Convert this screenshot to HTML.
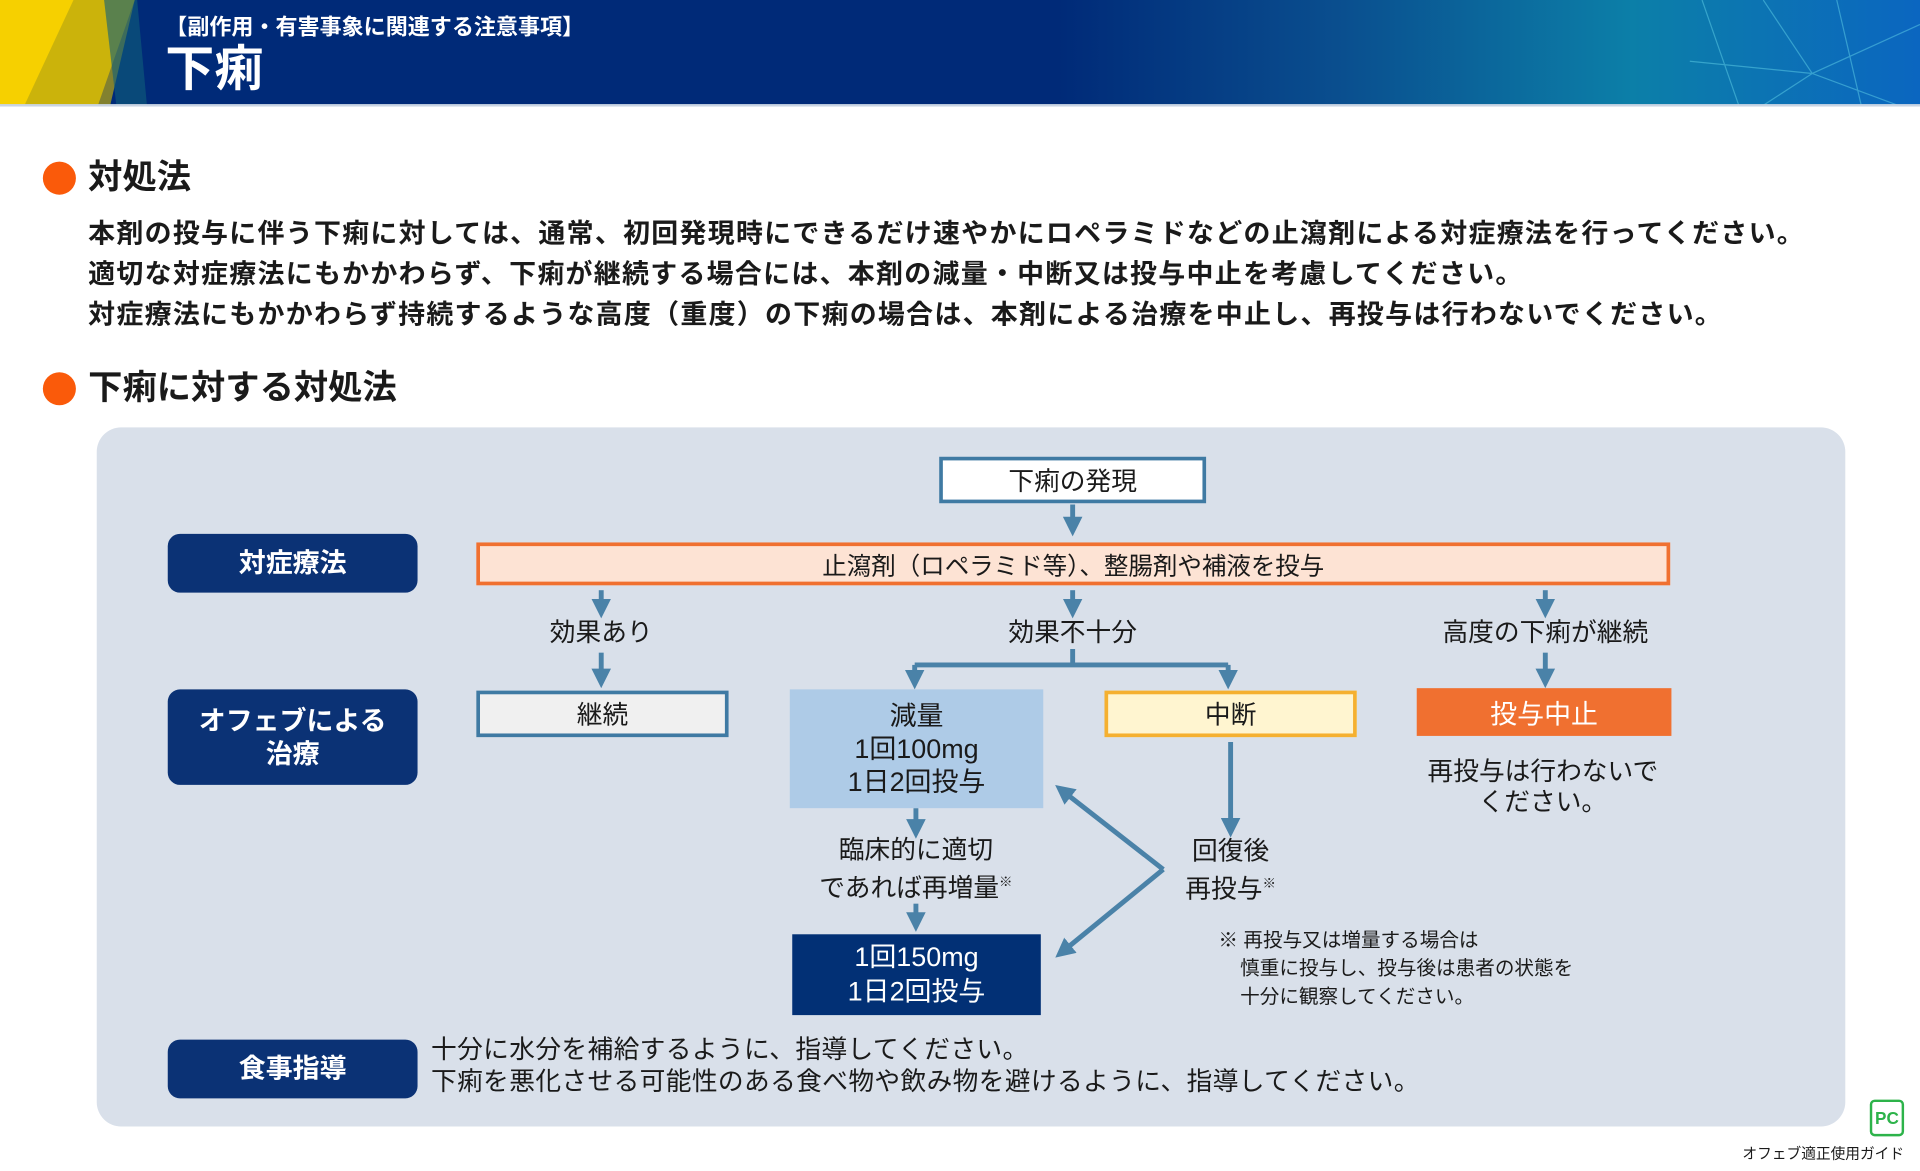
<!DOCTYPE html>
<html><head><meta charset="utf-8"><style>
html,body{margin:0;padding:0;width:1920px;height:1170px;overflow:hidden;background:#fff}
#s{position:absolute;left:0;top:0;width:1568px;height:956px;transform:scale(1.22449);transform-origin:0 0;font-family:"Liberation Sans","Noto Sans CJK JP",sans-serif;color:#1a1a1a}
.a{position:absolute;white-space:nowrap}
.c{position:absolute;display:flex;align-items:center;justify-content:center;text-align:center;box-sizing:border-box}
.lab{background:#0b3275;color:#fff;font-weight:bold;font-size:22px;border-radius:10px;line-height:1.25}
.t{position:absolute;transform:translate(-50%,-50%);text-align:center;white-space:nowrap;font-size:21px;line-height:27px}
sup{font-size:11px;vertical-align:8px}
</style></head><body><div id="s">
<div class="a" style="left:0;top:0;width:1568px;height:86px;background:linear-gradient(90deg,#002a78 0%,#002a78 55%,#0a4f8f 70%,#0c7fa8 85%,#0b66c0 100%)"></div>
<svg class="a" style="left:0;top:0" width="1568" height="88">
<polygon points="0,0 110,0 80,86 0,86" fill="#f6d000"/>
<polygon points="60,0 110,0 90,86 20,86" fill="#b9a60f" opacity="0.7"/>
<polygon points="85,0 112,0 120,86 95,86" fill="#0f5f7a" opacity="0.6"/>
<g stroke="#5fd0e8" stroke-width="1" opacity="0.5" fill="none"><path d="M1390 0 L1420 86 M1440 0 L1480 60 L1568 20 M1480 60 L1440 86 M1500 0 L1520 86 M1380 50 L1480 60 L1550 86"/></g>
<rect x="0" y="85" width="1568" height="2" fill="#c9d4e3"/>
</svg>
<div class="a" style="left:135px;top:8px;color:#fff;font-size:18px;font-weight:bold">【副作用・有害事象に関連する注意事項】</div>
<div class="a" style="left:135px;top:32px;color:#fff;font-size:40px;font-weight:bold;line-height:50px">下痢</div>

<div class="a" style="left:35px;top:132px;width:27px;height:27px;border-radius:50%;background:#fa5a0a"></div>
<div class="a" style="left:72px;top:127px;font-size:28px;font-weight:bold;line-height:36px">対処法</div>
<div class="a" style="left:72px;top:174px;font-size:22px;font-weight:bold;line-height:33px;letter-spacing:1.05px">本剤の投与に伴う下痢に対しては、通常、初回発現時にできるだけ速やかにロペラミドなどの止瀉剤による対症療法を行ってください。<br>適切な対症療法にもかかわらず、下痢が継続する場合には、本剤の減量・中断又は投与中止を考慮してください。<br>対症療法にもかかわらず持続するような高度（重度）の下痢の場合は、本剤による治療を中止し、再投与は行わないでください。</div>
<div class="a" style="left:35px;top:304px;width:27px;height:27px;border-radius:50%;background:#fa5a0a"></div>
<div class="a" style="left:72px;top:299px;font-size:28px;font-weight:bold;line-height:36px">下痢に対する対処法</div>

<div class="a" style="left:79px;top:349px;width:1428px;height:571px;background:#d9e0ea;border-radius:20px"></div>
<div class="c lab" style="left:137px;top:436px;width:204px;height:48px">対症療法</div>
<div class="c lab" style="left:137px;top:563px;width:204px;height:78px">オフェブによる<br>治療</div>
<div class="c lab" style="left:137px;top:849px;width:204px;height:48px">食事指導</div>

<svg class="a" style="left:0;top:0" width="1568" height="956">
<defs><marker id="m" markerWidth="4" markerHeight="4" refX="2" refY="2" orient="auto" markerUnits="strokeWidth"><path d="M0,0 L4,2 L0,4 z" fill="#4a82a8"/></marker></defs>
<g stroke="#4a82a8" stroke-width="4" fill="none">
<line x1="876" y1="412" x2="876" y2="430" marker-end="url(#m)"/>
<line x1="491" y1="482" x2="491" y2="497" marker-end="url(#m)"/>
<line x1="876" y1="482" x2="876" y2="497" marker-end="url(#m)"/>
<line x1="1262" y1="482" x2="1262" y2="497" marker-end="url(#m)"/>
<line x1="491" y1="533" x2="491" y2="554" marker-end="url(#m)"/>
<line x1="1262" y1="533" x2="1262" y2="554" marker-end="url(#m)"/>
<path d="M876 530 V543 M747 543 H1003"/>
<line x1="747" y1="543" x2="747" y2="555" marker-end="url(#m)"/>
<line x1="1003" y1="543" x2="1003" y2="555" marker-end="url(#m)"/>
<line x1="748" y1="660" x2="748" y2="677" marker-end="url(#m)"/>
<line x1="748" y1="738" x2="748" y2="753" marker-end="url(#m)"/>
<line x1="1005" y1="606" x2="1005" y2="676" marker-end="url(#m)"/>
<path d="M950 710 L868 646" marker-end="url(#m)"/>
<path d="M950 710 L868 777" marker-end="url(#m)"/>
</g></svg>

<div class="c" style="left:767px;top:373px;width:218px;height:38px;background:#fff;border:3px solid #3f7aa3;font-size:21px">下痢の発現</div>
<div class="c" style="left:389px;top:443px;width:975px;height:35px;background:#fde3d4;border:3px solid #f07030;font-size:20px">止瀉剤（ロペラミド等）、整腸剤や補液を投与</div>
<div class="t" style="left:491px;top:517px">効果あり</div>
<div class="t" style="left:876px;top:517px">効果不十分</div>
<div class="t" style="left:1262px;top:517px">高度の下痢が継続</div>
<div class="c" style="left:389px;top:564px;width:206px;height:38px;background:#f0f0f0;border:3px solid #3f7aa3;font-size:21px">継続</div>
<div class="c" style="left:645px;top:563px;width:207px;height:97px;background:#aecbe7;font-size:22px;line-height:27px">減量<br>1回100mg<br>1日2回投与</div>
<div class="c" style="left:902px;top:564px;width:206px;height:38px;background:#fff5d0;border:3px solid #f5b030;font-size:21px">中断</div>
<div class="c" style="left:1157px;top:562px;width:208px;height:39px;background:#f07030;color:#fff;font-size:22px">投与中止</div>
<div class="t" style="left:1260px;top:643px;line-height:25px">再投与は行わないで<br>ください。</div>
<div class="t" style="left:748px;top:710px;line-height:27px">臨床的に適切<br>であれば再増量<sup>※</sup></div>
<div class="c" style="left:647px;top:763px;width:203px;height:66px;background:#023075;color:#fff;font-size:22px;line-height:28px">1回150mg<br>1日2回投与</div>
<div class="t" style="left:1005px;top:711px;line-height:27px">回復後<br>再投与<sup>※</sup></div>
<div class="a" style="left:995px;top:757px;font-size:16px;line-height:23px">※ 再投与又は増量する場合は<br>&nbsp;&nbsp;&nbsp;&nbsp;慎重に投与し、投与後は患者の状態を<br>&nbsp;&nbsp;&nbsp;&nbsp;十分に観察してください。</div>
<div class="a" style="left:352px;top:845px;font-size:21px;line-height:26px;letter-spacing:0.3px">十分に水分を補給するように、指導してください。<br>下痢を悪化させる可能性のある食べ物や飲み物を避けるように、指導してください。</div>

<div class="c" style="left:1527px;top:898px;width:28px;height:30px;border:2px solid #2db34a;border-radius:4px;color:#2db34a;font-weight:bold;font-size:14px">PC</div>
<div class="a" style="right:13px;top:933px;font-size:12px">オフェブ適正使用ガイド</div>
</div></body></html>
